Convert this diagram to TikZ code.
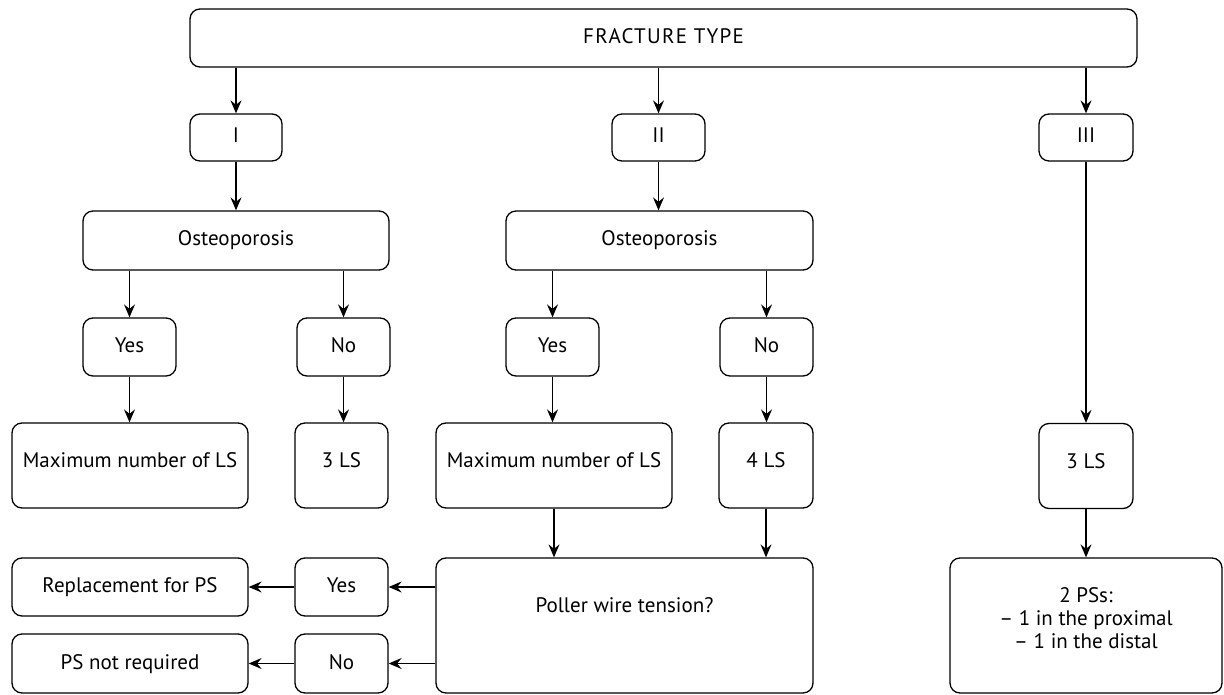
\documentclass[tikz,border=0pt]{standalone}
\usepackage{fontspec}
\setmainfont{PT Sans}
\usetikzlibrary{arrows.meta}
\tikzset{
  box/.style={draw=black, line width=1.3pt, rounded corners=10pt, inner sep=0pt,
    font=\fontsize{21}{23}\selectfont, text height=15pt, text depth=4pt},
  tallbox/.style={box, text depth=11pt},
  arr/.style={line width=1.3pt, draw=black, -{Stealth[length=13pt, width=11pt, inset=4.5pt]}}
}
\begin{document}
\begin{tikzpicture}[x=1pt, y=-1pt]
\useasboundingbox (0,0) rectangle (1224,695);
% row 0
\node[box, minimum width=947pt, minimum height=58pt] (top) at (663.5,38) {\addfontfeature{LetterSpace=6}FRACTURE TYPE};
% row 1
\node[box, minimum width=92pt, minimum height=47pt] (I) at (236,137.5) {I};
\node[box, minimum width=93pt, minimum height=47pt] (II) at (658.5,137.5) {II};
\node[box, minimum width=94pt, minimum height=47pt] (III) at (1086,137.5) {III};
% row 2
\node[box, minimum width=306pt, minimum height=59pt] (O1) at (236,240.5) {Osteoporosis};
\node[box, minimum width=307pt, minimum height=59pt] (O2) at (659.5,240.5) {Osteoporosis};
% row 3
\node[box, minimum width=93pt, minimum height=58pt] (Y1) at (129.5,347) {Yes};
\node[box, minimum width=93pt, minimum height=58pt] (N1) at (343.5,347) {No};
\node[box, minimum width=93pt, minimum height=58pt] (Y2) at (552.5,347) {Yes};
\node[box, minimum width=93pt, minimum height=58pt] (N2) at (766.5,347) {No};
% row 4
\node[tallbox, minimum width=236pt, minimum height=85pt] (M1) at (130,465.5) {Maximum number of LS};
\node[tallbox, minimum width=93pt, minimum height=85pt] (L1) at (341.5,465.5) {3 LS};
\node[tallbox, minimum width=236pt, minimum height=85pt] (M2) at (554,465.5) {Maximum number of LS};
\node[tallbox, minimum width=94pt, minimum height=85pt] (L2) at (766,465.5) {4 LS};
\node[tallbox, minimum width=94pt, minimum height=85pt] (L3) at (1086,466) {3 LS};
% row 5
\node[box, text depth=42pt, minimum width=377pt, minimum height=135pt] (P) at (624.5,625.5) {Poller wire tension?};
\node[box, text height=, text depth=, align=center, minimum width=272pt, minimum height=135pt] (Q) at (1086,625.5)
  {2 PSs:\\ – 1 in the proximal\\ – 1 in the distal\\[-8pt]\mbox{}};
\node[box, minimum width=236pt, minimum height=58pt] (R) at (130,587) {Replacement for PS};
\node[box, minimum width=93pt, minimum height=58pt] (Y3) at (341.5,587) {Yes};
\node[box, minimum width=236pt, minimum height=59pt] (S) at (130,663.5) {PS not required};
\node[box, minimum width=93pt, minimum height=59pt] (N3) at (341.5,663.5) {No};
% connectors
\draw[arr] (I |- top.south) -- (I.north);
\draw[arr] (II |- top.south) -- (II.north);
\draw[arr] (III |- top.south) -- (III.north);
\draw[arr] (I.south) -- (O1.north);
\draw[arr] (II.south) -- (II.south |- O2.north);
\draw[arr] (Y1 |- O1.south) -- (Y1.north);
\draw[arr] (N1 |- O1.south) -- (N1.north);
\draw[arr] (Y2 |- O2.south) -- (Y2.north);
\draw[arr] (N2 |- O2.south) -- (N2.north);
\draw[arr] (Y1.south) -- (Y1.south |- M1.north);
\draw[arr] (N1.south) -- (N1.south |- L1.north);
\draw[arr] (Y2.south) -- (Y2.south |- M2.north);
\draw[arr] (N2.south) -- (N2.south |- L2.north);
\draw[arr] (III.south) -- (L3.north);
\draw[arr] (M2.south) -- (M2.south |- P.north);
\draw[arr] (L2.south) -- (L2.south |- P.north);
\draw[arr] (L3.south) -- (Q.north);
\draw[arr] (P.west |- Y3) -- (Y3.east);
\draw[arr] (P.west |- N3) -- (N3.east);
\draw[arr] (Y3.west) -- (R.east);
\draw[arr] (N3.west) -- (S.east);
\end{tikzpicture}
\end{document}
